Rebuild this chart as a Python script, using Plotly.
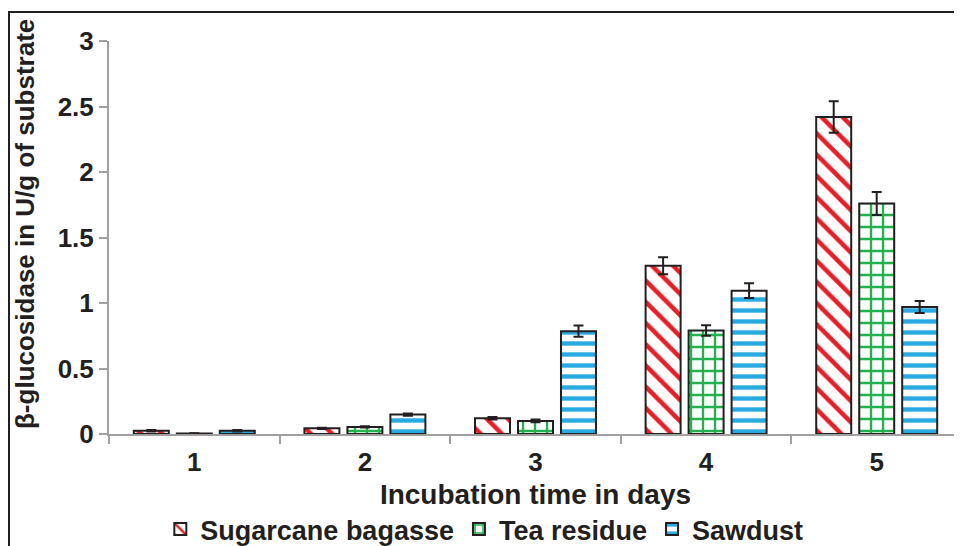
import plotly.graph_objects as go

days = ["1", "2", "3", "4", "5"]
sugarcane = [0.025, 0.043, 0.12, 1.285, 2.42]
sugarcane_err = [0.005, 0.005, 0.01, 0.065, 0.12]
tea = [0.003, 0.054, 0.10, 0.79, 1.76]
tea_err = [0.002, 0.005, 0.01, 0.04, 0.088]
sawdust = [0.025, 0.148, 0.785, 1.094, 0.97]
sawdust_err = [0.005, 0.008, 0.043, 0.056, 0.046]

series = [
    ("Sugarcane bagasse", sugarcane, sugarcane_err, "#ED1C24", "\\", 15, 0.3),
    ("Tea residue", tea, tea_err, "#22B14C", "+", 12, 0.35),
    ("Sawdust", sawdust, sawdust_err, "#29ABE2", "-", 11, 0.4),
]

fig = go.Figure()
for name, vals, errs, col, shp, sz, sol in series:
    fig.add_trace(go.Bar(
        name=name, x=days, y=vals,
        error_y=dict(type="data", array=errs, color="#231F20", thickness=2, width=5),
        marker=dict(
            color="white",
            line=dict(color="#231F20", width=2),
            pattern=dict(shape=shp, fgcolor=col, bgcolor="white", size=sz,
                         solidity=sol, fillmode="overlay", fgopacity=1),
        ),
    ))

font_family = "Liberation Sans, Arial, sans-serif"
W, H = 954, 538
L, T, B = 101, 33, 112
plot_w = W - L
plot_h = H - T - B
fig.update_layout(
    width=W, height=H,
    margin=dict(l=L, r=0, t=T, b=B, pad=0, autoexpand=False),
    paper_bgcolor="white", plot_bgcolor="white",
    barmode="group", bargap=0.244, bargroupgap=0.186,
    font=dict(family=font_family, color="#231F20"),
    showlegend=True,
    legend=dict(orientation="h", x=0.44, xanchor="center", y=-0.243, yanchor="middle",
                font=dict(size=27, family=font_family, weight="bold", color="#231F20"),
                itemsizing="constant", traceorder="normal", itemwidth=30),
    xaxis=dict(
        type="category", tickson="boundaries", ticks="outside", ticklen=8,
        tickcolor="#A0A0A0", tickwidth=2, automargin=False,
        ticklabelstandoff=4,
        showline=True, linecolor="#A0A0A0", linewidth=2,
        tickfont=dict(size=26, weight="bold", color="#231F20"),
        title=dict(text="Incubation time in days", standoff=8,
                   font=dict(size=28, weight="bold", color="#231F20")),
        showgrid=False,
    ),
    yaxis=dict(
        range=[0, 3], dtick=0.5, ticks="outside", ticklen=8,
        tickcolor="#A0A0A0", tickwidth=2, automargin=False,
        showline=True, linecolor="#A0A0A0", linewidth=2,
        showgrid=False, zeroline=False,
        tickfont=dict(size=26, weight="bold", color="#231F20"),
    ),
)

# y-axis title placed as annotation (sits a little above the plot centre in the reference)
fig.add_annotation(text="β-glucosidase in U/g of substrate", textangle=-90,
                   xref="paper", yref="paper", x=(17 - L) / plot_w, y=(H - B - 8 - 208) / plot_h,
                   xanchor="center", yanchor="middle", showarrow=False,
                   font=dict(size=26, weight="bold", color="#231F20", family=font_family))

# outer frame (top and left edges visible in the reference)
fig.add_shape(type="rect", xref="paper", yref="paper",
              x0=(1 - L) / plot_w, x1=1.05, y0=-0.6, y1=(H - B - 4) / plot_h,
              line=dict(color="#231F20", width=2), fillcolor="rgba(0,0,0,0)", layer="below")

fig.write_html("out.html")
